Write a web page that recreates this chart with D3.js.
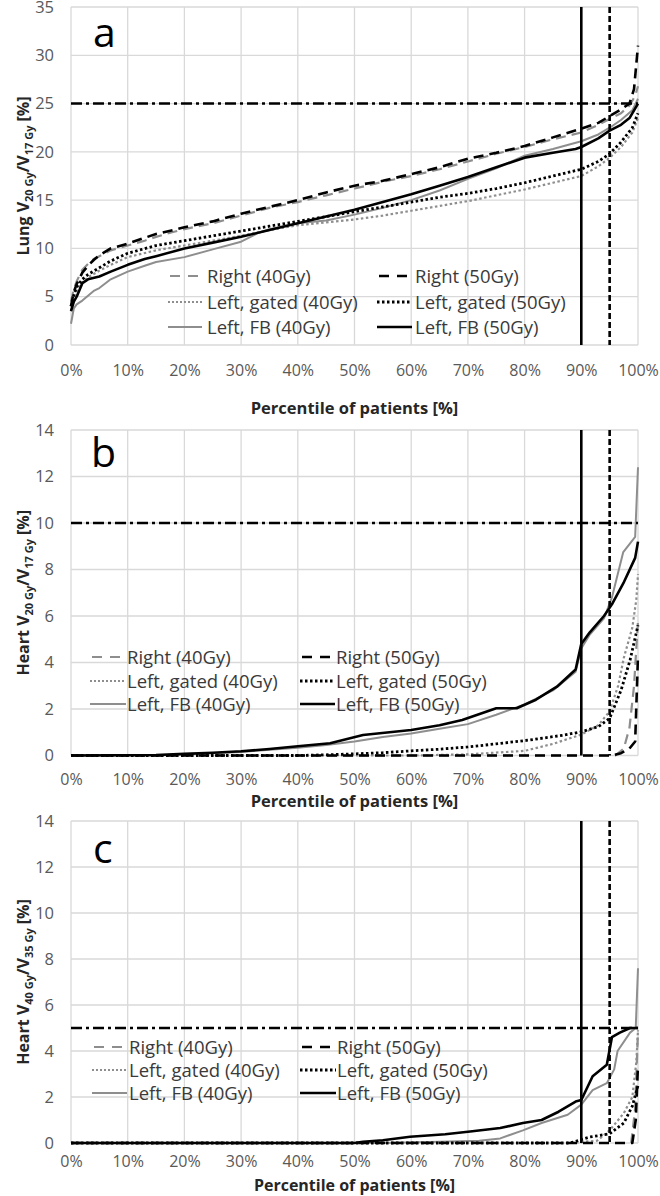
<!DOCTYPE html>
<html><head><meta charset="utf-8">
<script src="https://cdn.jsdelivr.net/npm/d3@7"></script>
<style>
html,body{margin:0;padding:0;background:#fff;}
svg{display:block;font-family:"Open Sans",sans-serif;}
</style></head>
<body><svg id="c" width="660" height="1196"></svg>
<script>
// ---------- data ----------
const seriesLabels = ["Right (40Gy)", "Right (50Gy)", "Left, gated (40Gy)", "Left, gated (50Gy)", "Left, FB (40Gy)", "Left, FB (50Gy)"];
const xTicks = [0,10,20,30,40,50,60,70,80,90,100];
const yTicksA = [0,5,10,15,20,25,30,35];
const yTicksBC = [0,2,4,6,8,10,12,14];
const panelLetters = ["a","b","c"];
const thresholdsX = [90, 95];
const thresholdsY = [25, 10, 5];

// panel a: Lung V20Gy/V17Gy  [percentile, value]
const lungRight40 = [[0,4.5],[0.5,5.8],[1,6.6],[2,7.8],[3,8.4],[4,8.9],[5,9.2],[7,9.8],[10,10.3],[13,10.8],[15,11.2],[18,11.7],[20,12.0],[25,12.6],[30,13.4],[35,14.2],[40,14.8],[45,15.5],[50,16.2],[55,16.9],[60,17.5],[65,18.2],[70,19.0],[75,19.8],[80,20.5],[85,21.3],[90,22.0],[93,22.8],[95,23.4],[97,24.0],[98.5,24.8],[99.5,25.8],[100,26.8]];
const lungRight50 = [[0,4.0],[0.5,5.5],[1,6.3],[2,7.5],[3,8.2],[4,8.8],[5,9.3],[7,10.0],[10,10.5],[13,11.1],[15,11.5],[18,11.9],[20,12.2],[25,12.8],[30,13.6],[35,14.3],[40,15.0],[45,15.8],[50,16.5],[55,17.0],[60,17.7],[65,18.4],[70,19.3],[75,19.9],[80,20.6],[85,21.5],[90,22.4],[93,23.0],[95,23.7],[97,24.4],[98.5,25.0],[99.3,26.5],[100,31.0]];
const lungGated40 = [[0,3.5],[0.5,4.8],[1,5.5],[2,6.5],[3,7.0],[5,7.7],[7,8.3],[10,9.1],[15,9.8],[20,10.3],[25,10.8],[30,11.3],[35,11.9],[40,12.4],[45,12.7],[50,13.0],[55,13.4],[60,13.9],[65,14.4],[70,14.9],[75,15.5],[80,16.1],[85,16.8],[90,17.5],[93,18.5],[95,19.4],[97,20.5],[99,22.0],[100,23.5]];
const lungGated50 = [[0,4.0],[0.5,5.2],[1,6.0],[2,6.8],[3,7.3],[5,8.0],[7,8.7],[10,9.5],[15,10.3],[20,10.8],[25,11.3],[30,11.8],[35,12.3],[40,12.8],[45,13.3],[50,13.8],[55,14.3],[60,14.8],[65,15.3],[70,15.7],[75,16.2],[80,16.8],[85,17.5],[90,18.2],[93,19.0],[95,19.8],[97,21.0],[99,22.5],[100,24.0]];
const lungFB40 = [[0,2.2],[0.5,3.8],[1,4.2],[2,4.6],[3,5.1],[4,5.6],[5,5.9],[7,6.8],[10,7.6],[13,8.2],[15,8.6],[20,9.1],[25,9.9],[30,10.7],[33,11.6],[35,12.0],[40,12.6],[45,12.9],[50,13.5],[55,14.2],[60,15.0],[65,16.0],[70,17.2],[75,18.3],[80,19.6],[85,20.3],[90,21.1],[93,21.8],[95,22.5],[97,23.3],[99,24.3],[100,25.5]];
const lungFB50 = [[0,3.5],[0.5,4.5],[1,5.0],[2,6.4],[3,6.8],[5,7.1],[7,7.6],[10,8.3],[13,8.9],[15,9.2],[20,10.0],[25,10.6],[30,11.2],[35,11.9],[40,12.6],[45,13.3],[50,14.0],[55,14.8],[60,15.6],[65,16.5],[70,17.4],[75,18.4],[80,19.4],[85,19.9],[89,20.3],[90,20.5],[93,21.4],[95,22.2],[97,22.8],[98.5,23.5],[100,25.0]];

// panel b: Heart V20Gy/V17Gy
const heartRight40 = [[0,0],[96,0],[97.5,0.3],[98.5,1.2],[99.3,3.0],[100,5.8]];
const heartRight50 = [[0,0],[95.5,0],[97,0.1],[98.5,0.3],[99.5,0.6],[100,4.3]];
const heartGated40 = [[0,0],[60,0],[70,0.05],[80,0.2],[85,0.5],[90,0.9],[93,1.3],[95,1.9],[96.5,3.0],[97.5,4.2],[99,5.5],[99.7,6.7],[100,7.8]];
const heartGated50 = [[0,0],[40,0],[45,0.03],[50,0.07],[55,0.12],[60,0.2],[65,0.27],[70,0.37],[75,0.5],[81,0.67],[87,0.88],[90,1.02],[93,1.24],[95,1.6],[97,2.8],[98.6,4.1],[100,5.6]];
const heartFB40 = [[0,0],[15,0],[20,0.05],[25,0.1],[30,0.15],[35,0.25],[40,0.33],[45,0.45],[50,0.6],[55,0.8],[60,0.95],[65,1.15],[70,1.35],[75,1.75],[80,2.2],[85,2.8],[89,3.6],[90,4.6],[91.5,5.2],[94,5.9],[95.4,6.8],[97.4,8.75],[99.5,9.4],[100,12.4]];
const heartFB50 = [[0,0],[15,0.02],[20,0.07],[25,0.12],[30,0.18],[35,0.28],[40,0.4],[45.7,0.53],[51.5,0.88],[60,1.1],[65,1.3],[69,1.53],[75,2.03],[78.6,2.03],[82,2.4],[85.7,2.96],[89,3.7],[90,4.8],[91.5,5.3],[94,6.0],[95.4,6.5],[97.4,7.4],[99.5,8.5],[100,9.2]];

// panel c: Heart V40Gy/V35Gy
const heart40Right40 = [[0,0],[98.8,0],[99.5,1.5],[100,4.9]];
const heart40Right50 = [[0,0],[99,0],[99.6,1.0],[100,3.4]];
const heart40Gated40 = [[0,0],[88,0],[92.8,0.1],[95,0.55],[97.5,1.3],[99,2.0],[99.7,3.5],[100,4.9]];
const heart40Gated50 = [[0,0],[88,0],[91.5,0.26],[95,0.4],[97.5,0.87],[99,1.6],[100,2.5]];
const heart40FB40 = [[0,0],[55,0],[65,0.05],[72,0.1],[75.7,0.2],[79.7,0.55],[83,0.87],[87.6,1.23],[90,1.67],[92,2.3],[94.5,2.6],[95.8,3.2],[96.4,4.0],[98.6,4.8],[99.6,5.0],[100,7.6]];
const heart40FB50 = [[0,0],[50,0],[51.5,0.05],[55,0.12],[59.8,0.27],[66,0.38],[70.4,0.5],[75.7,0.65],[79.7,0.87],[83,1.0],[86,1.36],[89,1.8],[90,1.87],[92,2.9],[94.5,3.4],[95.4,4.6],[96.8,4.8],[98.6,5.0],[100,5.0]];

// ---------- styles ----------
const GRAY = "#8e8e8e";
const styles = [
  {color: GRAY,   dash: "10,6", w: 2.2, legDash: "0,2,10,8,10,8"},
  {color: "#000", dash: "10,6", w: 2.6, legDash: "0,2,10,8,10,8"},
  {color: GRAY,   dash: "2.5,2.5", w: 2.2, legDash: "2,2"},
  {color: "#000", dash: "2.5,2.5", w: 2.8, legDash: "2.5,2.5"},
  {color: GRAY,   dash: null, w: 2.0, legDash: null},
  {color: "#000", dash: null, w: 2.6, legDash: null}
];

const panels = [
  {series:[lungRight40,lungRight50,lungGated40,lungGated50,lungFB40,lungFB50], yMax:35, yTicks:yTicksA,
   top:7, bottom:345, tickY:376, titleY:414, titleSize:16.5, letterX:93, letterY:47, thr:thresholdsY[0],
   ylab:["Lung V","20 Gy","/V","17 Gy"," [%]"],
   leg:{x1:[168,377], x2:[202,412], tx:[207,415], rows:[276,302,327]}},
  {series:[heartRight40,heartRight50,heartGated40,heartGated50,heartFB40,heartFB50], yMax:14, yTicks:yTicksBC,
   top:430, bottom:755.5, tickY:785, titleY:807, titleSize:16.5, letterX:91, letterY:467, thr:thresholdsY[1],
   ylab:["Heart V","20 Gy","/V","17 Gy"," [%]"],
   leg:{x1:[90,300], x2:[126,335], tx:[127,336], rows:[657,681,704]}},
  {series:[heart40Right40,heart40Right50,heart40Gated40,heart40Gated50,heart40FB40,heart40FB50], yMax:14, yTicks:yTicksBC,
   top:821, bottom:1143, tickY:1167, titleY:1191, titleSize:16, letterX:93, letterY:863, thr:thresholdsY[2],
   ylab:["Heart V","40 Gy","/V","35 Gy"," [%]"],
   leg:{x1:[92,300], x2:[127,336], tx:[129,337], rows:[1047,1070,1093]}}
];

const svg = d3.select("#c");
const X0 = 71, X1 = 638;

panels.forEach((P, pi) => {
  const x = d3.scaleLinear().domain([0,100]).range([X0, X1]);
  const y = d3.scaleLinear().domain([0,P.yMax]).range([P.bottom, P.top]);
  const g = svg.append("g");

  // grid
  g.append("g").selectAll("line").data(xTicks).join("line")
    .attr("x1", d=>x(d)).attr("x2", d=>x(d)).attr("y1", P.top).attr("y2", P.bottom)
    .attr("stroke", "#d9d9d9").attr("stroke-width", 1.3);
  g.append("g").selectAll("line").data(P.yTicks).join("line")
    .attr("y1", d=>y(d)).attr("y2", d=>y(d)).attr("x1", X0).attr("x2", X1)
    .attr("stroke", "#d9d9d9").attr("stroke-width", 1.3);

  // axes via d3 axis (labels only)
  const yAxis = g.append("g").attr("transform", `translate(${X0},0)`)
    .call(d3.axisLeft(y).tickValues(P.yTicks).tickSize(0).tickPadding(17).tickFormat(d3.format("d")));
  yAxis.select(".domain").remove();
  yAxis.selectAll("text").attr("fill","#595959").style("font-size","16.5px").style("font-family","'Open Sans',sans-serif");

  const xAxis = g.append("g").attr("transform", `translate(0,${P.tickY - 15})`)
    .call(d3.axisBottom(x).tickValues(xTicks).tickSize(0).tickPadding(0).tickFormat(d => d + "%"));
  xAxis.select(".domain").remove();
  xAxis.selectAll("text").attr("fill","#595959").attr("dy", null).attr("y", 15)
    .style("font-size","16px").style("font-family","'Open Sans',sans-serif");

  // series
  const line = d3.line().x(d=>x(d[0])).y(d=>y(d[1]));
  const order = [0,2,4,1,3,5];
  order.forEach(i => {
    const s = styles[i];
    g.append("path").datum(P.series[i]).attr("d", line)
      .attr("fill","none").attr("stroke", s.color).attr("stroke-width", s.w)
      .attr("stroke-dasharray", s.dash).attr("stroke-linejoin","round");
  });

  // thresholds
  g.append("line").attr("x1", X0).attr("x2", X1).attr("y1", y(P.thr)).attr("y2", y(P.thr))
    .attr("stroke","#000").attr("stroke-width",2.6).attr("stroke-dasharray","11,4,3,4");
  g.append("line").attr("x1", x(thresholdsX[0])).attr("x2", x(thresholdsX[0])).attr("y1", P.top).attr("y2", P.bottom)
    .attr("stroke","#000").attr("stroke-width",2.6);
  g.append("line").attr("x1", x(thresholdsX[1])).attr("x2", x(thresholdsX[1])).attr("y1", P.top).attr("y2", P.bottom)
    .attr("stroke","#000").attr("stroke-width",2.6).attr("stroke-dasharray","6,3");

  // legend
  seriesLabels.forEach((lab, i) => {
    const col = i % 2, row = Math.floor(i / 2);
    const s = styles[i];
    const ry = P.leg.rows[row];
    g.append("line").attr("x1", P.leg.x1[col]).attr("x2", P.leg.x2[col]).attr("y1", ry).attr("y2", ry)
      .attr("stroke", s.color).attr("stroke-width", s.w).attr("stroke-dasharray", s.legDash);
    g.append("text").attr("x", P.leg.tx[col]).attr("y", ry + 6.5).text(lab)
      .attr("fill","#3a3a3a").style("font-size","18.5px");
  });

  // panel letter
  g.append("text").attr("x", P.letterX).attr("y", P.letterY).text(panelLetters[pi])
    .attr("fill","#000").style("font-size","41px");

  // x title
  g.append("text").attr("x", (X0+X1)/2).attr("y", P.titleY).attr("text-anchor","middle")
    .text("Percentile of patients [%]").attr("fill","#262626").style("font-size", P.titleSize + "px").style("font-weight","bold");

  // y title
  const yt = g.append("text").attr("transform", `translate(29,${(P.top+P.bottom)/2}) rotate(-90)`)
    .attr("text-anchor","middle").attr("fill","#262626").style("font-weight","bold").style("font-size","16px");
  yt.append("tspan").text(P.ylab[0]);
  yt.append("tspan").text(P.ylab[1]).attr("dy", 4).style("font-size","11px");
  yt.append("tspan").text(P.ylab[2]).attr("dy", -4);
  yt.append("tspan").text(P.ylab[3]).attr("dy", 4).style("font-size","11px");
  yt.append("tspan").text(P.ylab[4]).attr("dy", -4);
});
</script></body></html>
